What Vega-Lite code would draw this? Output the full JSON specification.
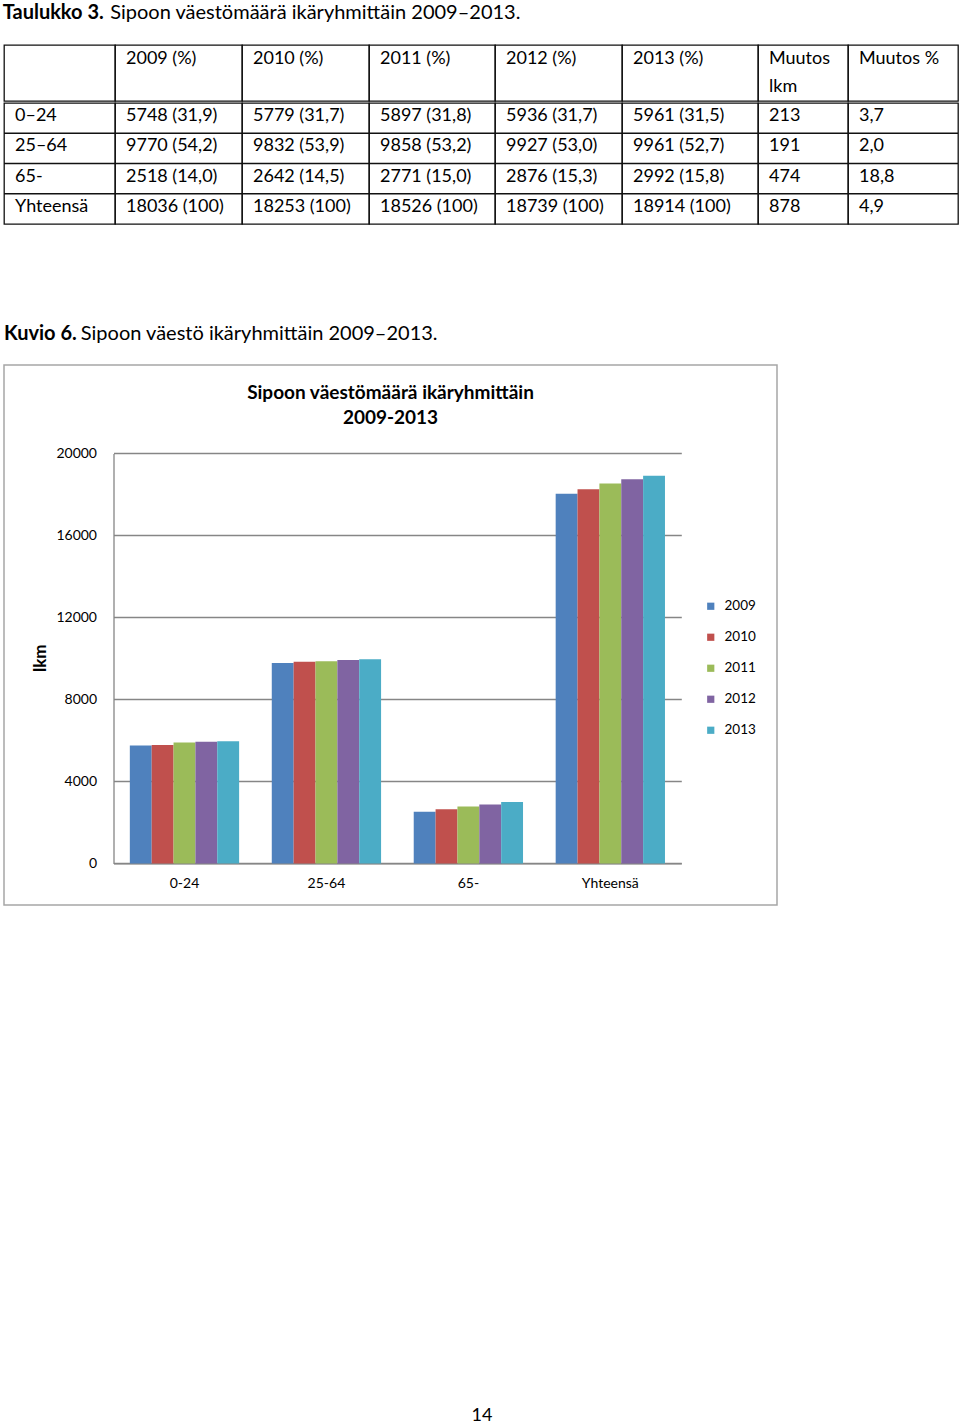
{
  "$schema": "https://vega.github.io/schema/vega-lite/v6.json",
  "padding": {"left": 2, "top": 3, "right": 0, "bottom": 0},
  "background": "#ffffff",
  "spacing": 98,
  "resolve": {"scale": {"color": "independent"}, "legend": {"color": "independent"}},
  "config": {
    "font": "Lato",
    "view": {"stroke": "#111111", "strokeWidth": 1.3},
    "text": {"align": "left", "dx": 11, "dy": -2, "fontSize": 18, "color": "#000000", "baseline": "middle"}
  },
  "datasets": {
    "cells": [
      {"c": "c0", "r": "h1", "t": ""},
      {"c": "c1", "r": "h1", "t": "2009 (%)"},
      {"c": "c2", "r": "h1", "t": "2010 (%)"},
      {"c": "c3", "r": "h1", "t": "2011 (%)"},
      {"c": "c4", "r": "h1", "t": "2012 (%)"},
      {"c": "c5", "r": "h1", "t": "2013 (%)"},
      {"c": "c6", "r": "h1", "t": "Muutos"},
      {"c": "c6", "r": "h2", "t": "lkm"},
      {"c": "c7", "r": "h1", "t": "Muutos %"},
      {"c": "c0", "r": "r1", "t": "0–24"},
      {"c": "c0", "r": "r2", "t": "25–64"},
      {"c": "c0", "r": "r3", "t": "65-"},
      {"c": "c0", "r": "r4", "t": "Yhteensä"},
      {"c": "c1", "r": "r1", "t": "5748 (31,9)"},
      {"c": "c1", "r": "r2", "t": "9770 (54,2)"},
      {"c": "c1", "r": "r3", "t": "2518 (14,0)"},
      {"c": "c1", "r": "r4", "t": "18036 (100)"},
      {"c": "c2", "r": "r1", "t": "5779 (31,7)"},
      {"c": "c2", "r": "r2", "t": "9832 (53,9)"},
      {"c": "c2", "r": "r3", "t": "2642 (14,5)"},
      {"c": "c2", "r": "r4", "t": "18253 (100)"},
      {"c": "c3", "r": "r1", "t": "5897 (31,8)"},
      {"c": "c3", "r": "r2", "t": "9858 (53,2)"},
      {"c": "c3", "r": "r3", "t": "2771 (15,0)"},
      {"c": "c3", "r": "r4", "t": "18526 (100)"},
      {"c": "c4", "r": "r1", "t": "5936 (31,7)"},
      {"c": "c4", "r": "r2", "t": "9927 (53,0)"},
      {"c": "c4", "r": "r3", "t": "2876 (15,3)"},
      {"c": "c4", "r": "r4", "t": "18739 (100)"},
      {"c": "c5", "r": "r1", "t": "5961 (31,5)"},
      {"c": "c5", "r": "r2", "t": "9961 (52,7)"},
      {"c": "c5", "r": "r3", "t": "2992 (15,8)"},
      {"c": "c5", "r": "r4", "t": "18914 (100)"},
      {"c": "c6", "r": "r1", "t": "213"},
      {"c": "c6", "r": "r2", "t": "191"},
      {"c": "c6", "r": "r3", "t": "474"},
      {"c": "c6", "r": "r4", "t": "878"},
      {"c": "c7", "r": "r1", "t": "3,7"},
      {"c": "c7", "r": "r2", "t": "2,0"},
      {"c": "c7", "r": "r3", "t": "18,8"},
      {"c": "c7", "r": "r4", "t": "4,9"}
    ],
    "bars": [
      {"g": "0-24", "y": "2009", "v": 5748},
      {"g": "0-24", "y": "2010", "v": 5779},
      {"g": "0-24", "y": "2011", "v": 5897},
      {"g": "0-24", "y": "2012", "v": 5936},
      {"g": "0-24", "y": "2013", "v": 5961},
      {"g": "25-64", "y": "2009", "v": 9770},
      {"g": "25-64", "y": "2010", "v": 9832},
      {"g": "25-64", "y": "2011", "v": 9858},
      {"g": "25-64", "y": "2012", "v": 9927},
      {"g": "25-64", "y": "2013", "v": 9961},
      {"g": "65-", "y": "2009", "v": 2518},
      {"g": "65-", "y": "2010", "v": 2642},
      {"g": "65-", "y": "2011", "v": 2771},
      {"g": "65-", "y": "2012", "v": 2876},
      {"g": "65-", "y": "2013", "v": 2992},
      {"g": "Yhteensä", "y": "2009", "v": 18036},
      {"g": "Yhteensä", "y": "2010", "v": 18253},
      {"g": "Yhteensä", "y": "2011", "v": 18526},
      {"g": "Yhteensä", "y": "2012", "v": 18739},
      {"g": "Yhteensä", "y": "2013", "v": 18914}
    ]
  },
  "vconcat": [
    {
      "title": {
        "text": "Taulukko 3.",
        "subtitle": "\u200b\u00a0\u00a0\u00a0\u00a0\u00a0\u00a0\u00a0\u00a0\u00a0\u00a0\u00a0\u00a0\u00a0\u00a0\u00a0\u00a0\u00a0\u00a0\u00a0\u00a0\u00a0Sipoon väestömäärä ikäryhmittäin 2009–2013.",
        "anchor": "start",
        "font": "Lato", "fontSize": 20, "fontWeight": "bold", "color": "#000000",
        "subtitleFont": "Lato", "subtitleFontSize": 20, "subtitleFontWeight": "normal", "subtitleColor": "#000000",
        "subtitlePadding": -20,
        "offset": 21
      },
      "spacing": 0,
      "vconcat": [
        {
          "spacing": 0,
          "bounds": "flush",
          "hconcat": [
            {"width": 111, "height": 56, "data": {"name": "cells"}, "transform": [{"filter": "datum.c=='c0' && datum.r[0]=='h'"}], "mark": {"type": "text", "dy": 0},
             "encoding": {"x": {"field": "c", "type": "nominal", "bandPosition": 0, "scale": {"type": "band", "paddingInner": 0, "paddingOuter": 0}, "axis": null},
                          "y": {"field": "r", "type": "nominal", "scale": {"type": "band", "domain": ["h1", "h2"], "paddingInner": 0, "paddingOuter": 0}, "axis": null},
                          "text": {"field": "t"}}},
            {"width": 127, "height": 56, "data": {"name": "cells"}, "transform": [{"filter": "datum.c=='c1' && datum.r[0]=='h'"}], "mark": {"type": "text", "dy": 0},
             "encoding": {"x": {"field": "c", "type": "nominal", "bandPosition": 0, "scale": {"type": "band", "paddingInner": 0, "paddingOuter": 0}, "axis": null},
                          "y": {"field": "r", "type": "nominal", "scale": {"type": "band", "domain": ["h1", "h2"], "paddingInner": 0, "paddingOuter": 0}, "axis": null},
                          "text": {"field": "t"}}},
            {"width": 127, "height": 56, "data": {"name": "cells"}, "transform": [{"filter": "datum.c=='c2' && datum.r[0]=='h'"}], "mark": {"type": "text", "dy": 0},
             "encoding": {"x": {"field": "c", "type": "nominal", "bandPosition": 0, "scale": {"type": "band", "paddingInner": 0, "paddingOuter": 0}, "axis": null},
                          "y": {"field": "r", "type": "nominal", "scale": {"type": "band", "domain": ["h1", "h2"], "paddingInner": 0, "paddingOuter": 0}, "axis": null},
                          "text": {"field": "t"}}},
            {"width": 126, "height": 56, "data": {"name": "cells"}, "transform": [{"filter": "datum.c=='c3' && datum.r[0]=='h'"}], "mark": {"type": "text", "dy": 0},
             "encoding": {"x": {"field": "c", "type": "nominal", "bandPosition": 0, "scale": {"type": "band", "paddingInner": 0, "paddingOuter": 0}, "axis": null},
                          "y": {"field": "r", "type": "nominal", "scale": {"type": "band", "domain": ["h1", "h2"], "paddingInner": 0, "paddingOuter": 0}, "axis": null},
                          "text": {"field": "t"}}},
            {"width": 127, "height": 56, "data": {"name": "cells"}, "transform": [{"filter": "datum.c=='c4' && datum.r[0]=='h'"}], "mark": {"type": "text", "dy": 0},
             "encoding": {"x": {"field": "c", "type": "nominal", "bandPosition": 0, "scale": {"type": "band", "paddingInner": 0, "paddingOuter": 0}, "axis": null},
                          "y": {"field": "r", "type": "nominal", "scale": {"type": "band", "domain": ["h1", "h2"], "paddingInner": 0, "paddingOuter": 0}, "axis": null},
                          "text": {"field": "t"}}},
            {"width": 136, "height": 56, "data": {"name": "cells"}, "transform": [{"filter": "datum.c=='c5' && datum.r[0]=='h'"}], "mark": {"type": "text", "dy": 0},
             "encoding": {"x": {"field": "c", "type": "nominal", "bandPosition": 0, "scale": {"type": "band", "paddingInner": 0, "paddingOuter": 0}, "axis": null},
                          "y": {"field": "r", "type": "nominal", "scale": {"type": "band", "domain": ["h1", "h2"], "paddingInner": 0, "paddingOuter": 0}, "axis": null},
                          "text": {"field": "t"}}},
            {"width": 90, "height": 56, "data": {"name": "cells"}, "transform": [{"filter": "datum.c=='c6' && datum.r[0]=='h'"}], "mark": {"type": "text", "dy": 0},
             "encoding": {"x": {"field": "c", "type": "nominal", "bandPosition": 0, "scale": {"type": "band", "paddingInner": 0, "paddingOuter": 0}, "axis": null},
                          "y": {"field": "r", "type": "nominal", "scale": {"type": "band", "domain": ["h1", "h2"], "paddingInner": 0, "paddingOuter": 0}, "axis": null},
                          "text": {"field": "t"}}},
            {"width": 110, "height": 56, "data": {"name": "cells"}, "transform": [{"filter": "datum.c=='c7' && datum.r[0]=='h'"}], "mark": {"type": "text", "dy": 0},
             "encoding": {"x": {"field": "c", "type": "nominal", "bandPosition": 0, "scale": {"type": "band", "paddingInner": 0, "paddingOuter": 0}, "axis": null},
                          "y": {"field": "r", "type": "nominal", "scale": {"type": "band", "domain": ["h1", "h2"], "paddingInner": 0, "paddingOuter": 0}, "axis": null},
                          "text": {"field": "t"}}}
          ]
        },
        {
          "spacing": 0,
          "bounds": "flush",
          "hconcat": [
            {"width": 111, "height": 121, "data": {"name": "cells"}, "transform": [{"filter": "datum.c=='c0' && datum.r[0]=='r'"}],
             "layer": [
               {"transform": [{"filter": "datum.r!='r1'"}], "mark": {"type": "rule", "color": "#111111", "strokeWidth": 1.3},
                "encoding": {"y": {"field": "r", "type": "nominal", "bandPosition": 0, "scale": {"type": "band", "domain": ["r1", "r2", "r3", "r4"], "paddingInner": 0, "paddingOuter": 0}, "axis": null}}},
               {"mark": "text",
                "encoding": {"x": {"field": "c", "type": "nominal", "bandPosition": 0, "scale": {"type": "band", "paddingInner": 0, "paddingOuter": 0}, "axis": null},
                             "y": {"field": "r", "type": "nominal", "scale": {"type": "band", "domain": ["r1", "r2", "r3", "r4"], "paddingInner": 0, "paddingOuter": 0}, "axis": null},
                             "text": {"field": "t"}}}
             ]},
            {"width": 127, "height": 121, "data": {"name": "cells"}, "transform": [{"filter": "datum.c=='c1' && datum.r[0]=='r'"}],
             "layer": [
               {"transform": [{"filter": "datum.r!='r1'"}], "mark": {"type": "rule", "color": "#111111", "strokeWidth": 1.3},
                "encoding": {"y": {"field": "r", "type": "nominal", "bandPosition": 0, "scale": {"type": "band", "domain": ["r1", "r2", "r3", "r4"], "paddingInner": 0, "paddingOuter": 0}, "axis": null}}},
               {"mark": "text",
                "encoding": {"x": {"field": "c", "type": "nominal", "bandPosition": 0, "scale": {"type": "band", "paddingInner": 0, "paddingOuter": 0}, "axis": null},
                             "y": {"field": "r", "type": "nominal", "scale": {"type": "band", "domain": ["r1", "r2", "r3", "r4"], "paddingInner": 0, "paddingOuter": 0}, "axis": null},
                             "text": {"field": "t"}}}
             ]},
            {"width": 127, "height": 121, "data": {"name": "cells"}, "transform": [{"filter": "datum.c=='c2' && datum.r[0]=='r'"}],
             "layer": [
               {"transform": [{"filter": "datum.r!='r1'"}], "mark": {"type": "rule", "color": "#111111", "strokeWidth": 1.3},
                "encoding": {"y": {"field": "r", "type": "nominal", "bandPosition": 0, "scale": {"type": "band", "domain": ["r1", "r2", "r3", "r4"], "paddingInner": 0, "paddingOuter": 0}, "axis": null}}},
               {"mark": "text",
                "encoding": {"x": {"field": "c", "type": "nominal", "bandPosition": 0, "scale": {"type": "band", "paddingInner": 0, "paddingOuter": 0}, "axis": null},
                             "y": {"field": "r", "type": "nominal", "scale": {"type": "band", "domain": ["r1", "r2", "r3", "r4"], "paddingInner": 0, "paddingOuter": 0}, "axis": null},
                             "text": {"field": "t"}}}
             ]},
            {"width": 126, "height": 121, "data": {"name": "cells"}, "transform": [{"filter": "datum.c=='c3' && datum.r[0]=='r'"}],
             "layer": [
               {"transform": [{"filter": "datum.r!='r1'"}], "mark": {"type": "rule", "color": "#111111", "strokeWidth": 1.3},
                "encoding": {"y": {"field": "r", "type": "nominal", "bandPosition": 0, "scale": {"type": "band", "domain": ["r1", "r2", "r3", "r4"], "paddingInner": 0, "paddingOuter": 0}, "axis": null}}},
               {"mark": "text",
                "encoding": {"x": {"field": "c", "type": "nominal", "bandPosition": 0, "scale": {"type": "band", "paddingInner": 0, "paddingOuter": 0}, "axis": null},
                             "y": {"field": "r", "type": "nominal", "scale": {"type": "band", "domain": ["r1", "r2", "r3", "r4"], "paddingInner": 0, "paddingOuter": 0}, "axis": null},
                             "text": {"field": "t"}}}
             ]},
            {"width": 127, "height": 121, "data": {"name": "cells"}, "transform": [{"filter": "datum.c=='c4' && datum.r[0]=='r'"}],
             "layer": [
               {"transform": [{"filter": "datum.r!='r1'"}], "mark": {"type": "rule", "color": "#111111", "strokeWidth": 1.3},
                "encoding": {"y": {"field": "r", "type": "nominal", "bandPosition": 0, "scale": {"type": "band", "domain": ["r1", "r2", "r3", "r4"], "paddingInner": 0, "paddingOuter": 0}, "axis": null}}},
               {"mark": "text",
                "encoding": {"x": {"field": "c", "type": "nominal", "bandPosition": 0, "scale": {"type": "band", "paddingInner": 0, "paddingOuter": 0}, "axis": null},
                             "y": {"field": "r", "type": "nominal", "scale": {"type": "band", "domain": ["r1", "r2", "r3", "r4"], "paddingInner": 0, "paddingOuter": 0}, "axis": null},
                             "text": {"field": "t"}}}
             ]},
            {"width": 136, "height": 121, "data": {"name": "cells"}, "transform": [{"filter": "datum.c=='c5' && datum.r[0]=='r'"}],
             "layer": [
               {"transform": [{"filter": "datum.r!='r1'"}], "mark": {"type": "rule", "color": "#111111", "strokeWidth": 1.3},
                "encoding": {"y": {"field": "r", "type": "nominal", "bandPosition": 0, "scale": {"type": "band", "domain": ["r1", "r2", "r3", "r4"], "paddingInner": 0, "paddingOuter": 0}, "axis": null}}},
               {"mark": "text",
                "encoding": {"x": {"field": "c", "type": "nominal", "bandPosition": 0, "scale": {"type": "band", "paddingInner": 0, "paddingOuter": 0}, "axis": null},
                             "y": {"field": "r", "type": "nominal", "scale": {"type": "band", "domain": ["r1", "r2", "r3", "r4"], "paddingInner": 0, "paddingOuter": 0}, "axis": null},
                             "text": {"field": "t"}}}
             ]},
            {"width": 90, "height": 121, "data": {"name": "cells"}, "transform": [{"filter": "datum.c=='c6' && datum.r[0]=='r'"}],
             "layer": [
               {"transform": [{"filter": "datum.r!='r1'"}], "mark": {"type": "rule", "color": "#111111", "strokeWidth": 1.3},
                "encoding": {"y": {"field": "r", "type": "nominal", "bandPosition": 0, "scale": {"type": "band", "domain": ["r1", "r2", "r3", "r4"], "paddingInner": 0, "paddingOuter": 0}, "axis": null}}},
               {"mark": "text",
                "encoding": {"x": {"field": "c", "type": "nominal", "bandPosition": 0, "scale": {"type": "band", "paddingInner": 0, "paddingOuter": 0}, "axis": null},
                             "y": {"field": "r", "type": "nominal", "scale": {"type": "band", "domain": ["r1", "r2", "r3", "r4"], "paddingInner": 0, "paddingOuter": 0}, "axis": null},
                             "text": {"field": "t"}}}
             ]},
            {"width": 110, "height": 121, "data": {"name": "cells"}, "transform": [{"filter": "datum.c=='c7' && datum.r[0]=='r'"}],
             "layer": [
               {"transform": [{"filter": "datum.r!='r1'"}], "mark": {"type": "rule", "color": "#111111", "strokeWidth": 1.3},
                "encoding": {"y": {"field": "r", "type": "nominal", "bandPosition": 0, "scale": {"type": "band", "domain": ["r1", "r2", "r3", "r4"], "paddingInner": 0, "paddingOuter": 0}, "axis": null}}},
               {"mark": "text",
                "encoding": {"x": {"field": "c", "type": "nominal", "bandPosition": 0, "scale": {"type": "band", "paddingInner": 0, "paddingOuter": 0}, "axis": null},
                             "y": {"field": "r", "type": "nominal", "scale": {"type": "band", "domain": ["r1", "r2", "r3", "r4"], "paddingInner": 0, "paddingOuter": 0}, "axis": null},
                             "text": {"field": "t"}}}
             ]}
          ]
        }
      ]
    },
    {
      "width": 773,
      "height": 540,
      "view": {"stroke": "#a6a6a6", "strokeWidth": 1.5},
      "title": {
        "text": "Kuvio 6.",
        "subtitle": "\u200b\u00a0\u00a0\u00a0\u00a0\u00a0\u00a0\u00a0\u00a0\u00a0\u00a0\u00a0\u00a0\u00a0\u00a0\u00a0Sipoon väestö ikäryhmittäin 2009–2013.",
        "anchor": "start",
        "font": "Lato", "fontSize": 20, "fontWeight": "bold", "color": "#000000",
        "subtitleFont": "Lato", "subtitleFontSize": 20, "subtitleFontWeight": "normal", "subtitleColor": "#000000",
        "subtitlePadding": -20,
        "offset": 21
      },
      "layer": [
        {
          "data": {"name": "bars"},
          "mark": {"type": "bar"},
          "encoding": {
            "x": {"field": "g", "type": "nominal", "sort": null,
                  "scale": {"type": "band", "range": [109.5, 677.3], "paddingInner": 0.23, "paddingOuter": 0.115},
                  "axis": {"title": null, "orient": "bottom", "offset": -41.6, "ticks": false, "tickSize": 0, "grid": false,
                           "domainColor": "#868686", "domainWidth": 1.3, "labelFont": "Lato", "labelFontSize": 14, "labelColor": "#000000",
                           "labelPadding": 13, "labelAngle": 0}},
            "xOffset": {"field": "y", "type": "nominal", "scale": {"paddingInner": 0, "paddingOuter": 0}},
            "y": {"field": "v", "type": "quantitative",
                  "scale": {"domain": [0, 20000], "range": [498.4, 88.4], "nice": false, "zero": true},
                  "axis": {"values": [0, 4000, 8000, 12000, 16000, 20000], "format": "d", "offset": -109.5, "orient": "left",
                           "ticks": false, "tickSize": 0, "grid": true, "gridColor": "#868686", "gridWidth": 1.3,
                           "domainColor": "#868686", "domainWidth": 1.3, "labelFont": "Lato", "labelFontSize": 14, "labelColor": "#000000",
                           "labelPadding": 17, "title": "lkm", "titleFont": "Lato", "titleFontSize": 17, "titleFontWeight": "bold",
                           "titleColor": "#000000", "titleX": -68, "titleY": 292.7, "titleBaseline": "alphabetic", "titleAngle": -90}},
            "color": {"field": "y", "type": "nominal",
                      "scale": {"domain": ["2009", "2010", "2011", "2012", "2013"], "range": ["#4f81bd", "#c0504d", "#9bbb59", "#8064a2", "#4bacc6"]},
                      "legend": {"title": null, "orient": "none", "legendX": 700, "legendY": 234.5, "symbolType": "square",
                                 "symbolSize": 52, "symbolStrokeWidth": 0, "labelFont": "Lato", "labelFontSize": 13.5, "labelColor": "#000000",
                                 "labelOffset": 7, "rowPadding": 16, "padding": 0}}
          }
        },
        {
          "data": {"values": [{"t": "Sipoon väestömäärä ikäryhmittäin\n2009-2013"}]},
          "mark": {"type": "text", "font": "Lato", "fontSize": 19, "fontWeight": "bold", "lineBreak": "\n", "lineHeight": 25,
                   "baseline": "middle", "align": "center", "dx": 0, "dy": -241.8, "color": "#000000"},
          "encoding": {
            "text": {"field": "t"}
          }
        }
      ]
    },
    {
      "width": 956,
      "height": 412,
      "view": {"stroke": null},
      "data": {"values": [{"p": "14"}]},
      "mark": {"type": "text", "fontSize": 18, "baseline": "middle", "align": "center", "dx": 0, "dy": 0, "color": "#000000"},
      "encoding": {
        "text": {"field": "p"},
        "y": {"datum": 0, "type": "quantitative", "scale": {"domain": [0, 1]}, "axis": null}
      }
    }
  ]
}
